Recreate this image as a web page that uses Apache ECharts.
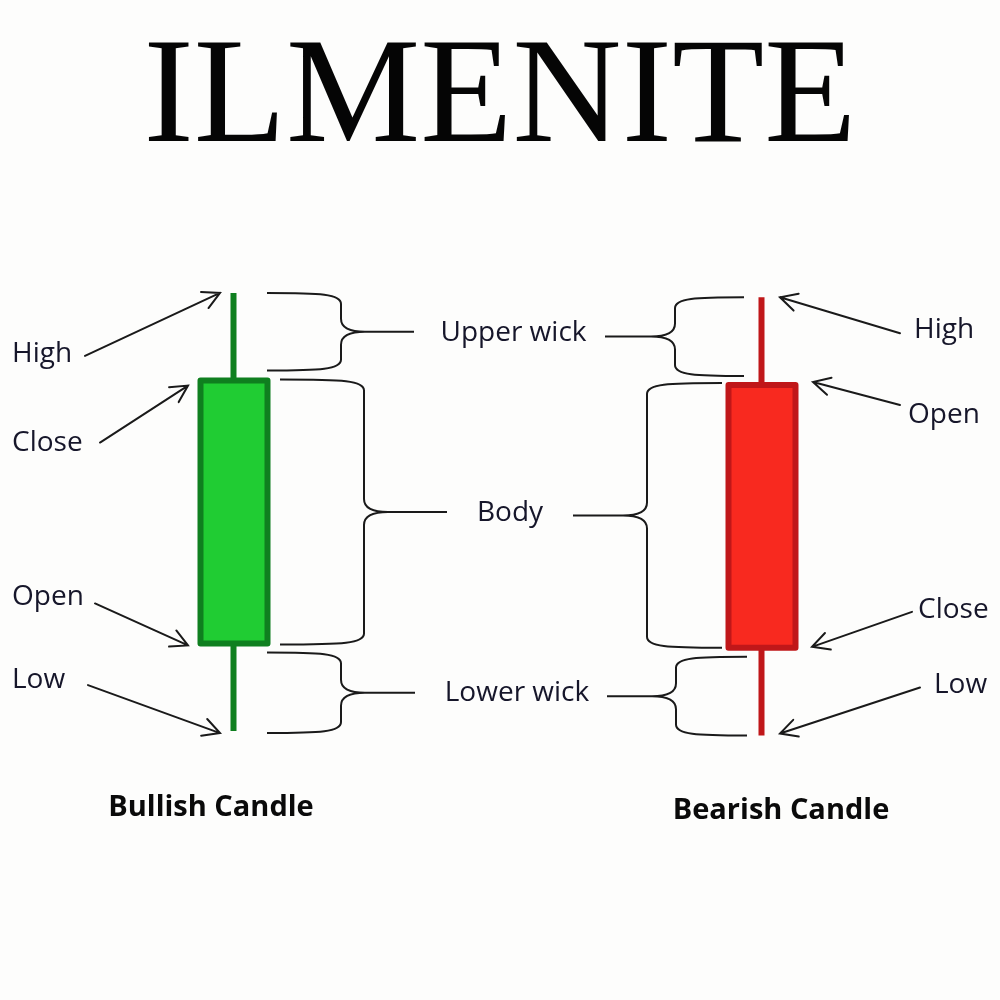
<!DOCTYPE html>
<html>
<head>
<meta charset="utf-8">
<script src="https://cdn.jsdelivr.net/npm/echarts@6/dist/echarts.min.js"></script>
<style>
html,body{margin:0;padding:0;background:#fdfdfc;}
#chart{width:1000px;height:1000px;}
</style>
</head>
<body>
<div id="chart"></div>
<script>
// ---- data ----
const titleText = 'ILMENITE';
const candleNames = ['Bullish Candle', 'Bearish Candle'];
const openPrices = [20, 79];
const closePrices = [80, 19];
const lowPrices = [0, -1];
const highPrices = [100, 99];
const pricePointNames = ['High', 'Open', 'Close', 'Low'];
const partNames = ['Upper wick', 'Body', 'Lower wick'];

// ---- layout (pixel offsets relative to each candle) ----
const arrowLayout = [
  {
    High:  {tip: [-14, 0],  tail: [-149, 63],  label: [-222, 61]},
    Close: {tip: [-46, 5],  tail: [-134, 62],  label: [-222, 62]},
    Open:  {tip: [-46, 2],  tail: [-139, -40], label: [-222, -46]},
    Low:   {tip: [-14, 2],  tail: [-146, -46], label: [-222, -51]}
  },
  {
    High:  {tip: [18, 0],   tail: [138, 36],   label: [152, 33]},
    Open:  {tip: [51, -3],  tail: [138, 20],   label: [146, 30]},
    Close: {tip: [50, -1],  tail: [150, -36],  label: [156, -38]},
    Low:   {tip: [18, -2],  tail: [158, -48],  label: [172, -50]}
  }
];
const braceLayout = [
  [
    {tip: 33, spine: 107, stem: 180, inset: [0, -10]},
    {tip: 46, spine: 130, stem: 213, inset: [-1, 1]},
    {tip: 33, spine: 107, stem: 181, inset: [9, 2]}
  ],
  [
    {tip: -18, spine: -87, stem: -157, inset: [0, -9]},
    {tip: -40, spine: -115, stem: -189, inset: [-2, 0]},
    {tip: -15, spine: -86, stem: -155, inset: [9, 0]}
  ]
];
const middleLabelDx = [4, 0, 6];
const nameOffset = [[-23, 77], [19, 75]];

const LABEL_FONT = '"Open Sans", "Noto Sans", sans-serif';
const TEXT_COLOR = '#16162a';
const LINE_COLOR = '#1a1a1a';

function priceOf(name, i) {
  if (name === 'High') return highPrices[i];
  if (name === 'Low') return lowPrices[i];
  if (name === 'Open') return openPrices[i];
  return closePrices[i];
}

function bracePath(xT, yT, yB, xS, xStem) {
  const dir = xS > xT ? 1 : -1;
  const yM = (yT + yB) / 2;
  const r = 11, c = 13, a = 24;
  const xA = xS + dir * a;
  return 'M' + xT + ' ' + yT +
    ' C' + (xS - dir * 20) + ' ' + yT + ' ' + xS + ' ' + (yT + 1) + ' ' + xS + ' ' + (yT + r) +
    ' L' + xS + ' ' + (yM - c) +
    ' Q' + xS + ' ' + yM + ' ' + xA + ' ' + yM +
    ' Q' + xS + ' ' + yM + ' ' + xS + ' ' + (yM + c) +
    ' L' + xS + ' ' + (yB - r) +
    ' C' + xS + ' ' + (yB - 1) + ' ' + (xS - dir * 20) + ' ' + yB + ' ' + xT + ' ' + yB +
    ' M' + xA + ' ' + yM + ' L' + xStem + ' ' + yM;
}

function arrowPath(tail, tip) {
  const ang = Math.atan2(tip[1] - tail[1], tip[0] - tail[0]);
  const len = 19, spread = Math.PI / 6.5;
  const h1 = [tip[0] - len * Math.cos(ang - spread), tip[1] - len * Math.sin(ang - spread)];
  const h2 = [tip[0] - len * Math.cos(ang + spread), tip[1] - len * Math.sin(ang + spread)];
  return 'M' + tail[0] + ' ' + tail[1] + ' L' + tip[0] + ' ' + tip[1] +
    ' M' + h1[0] + ' ' + h1[1] + ' L' + tip[0] + ' ' + tip[1] + ' L' + h2[0] + ' ' + h2[1];
}

function renderAnnotations(params, api) {
  const children = [];
  const braceMids = [[], []];
  candleNames.forEach(function (name, i) {
    const cx = api.coord([i, highPrices[i]])[0];
    pricePointNames.forEach(function (pn) {
      const L = arrowLayout[i][pn];
      const y = api.coord([i, priceOf(pn, i)])[1];
      const tip = [cx + L.tip[0], y + L.tip[1]];
      const tail = [cx + L.tail[0], y + L.tail[1]];
      children.push({
        type: 'path',
        shape: {pathData: arrowPath(tail, tip)},
        style: {stroke: LINE_COLOR, lineWidth: 2, fill: null, lineCap: 'round'}
      });
      children.push({
        type: 'text',
        style: {
          text: pn, x: cx + L.label[0], y: y + L.label[1],
          fill: TEXT_COLOR, fontSize: 28, fontFamily: LABEL_FONT,
          align: 'left', verticalAlign: 'middle'
        }
      });
    });
    const top = Math.max(openPrices[i], closePrices[i]);
    const bot = Math.min(openPrices[i], closePrices[i]);
    const spans = [[highPrices[i], top], [top, bot], [bot, lowPrices[i]]];
    spans.forEach(function (sp, k) {
      const B = braceLayout[i][k];
      const yT = api.coord([i, sp[0]])[1] + B.inset[0];
      const yB = api.coord([i, sp[1]])[1] + B.inset[1];
      braceMids[i][k] = {x: cx + B.stem, y: (yT + yB) / 2};
      children.push({
        type: 'path',
        shape: {pathData: bracePath(cx + B.tip, yT, yB, cx + B.spine, cx + B.stem)},
        style: {stroke: LINE_COLOR, lineWidth: 2, fill: null}
      });
    });
    const yLow = api.coord([i, lowPrices[i]])[1];
    children.push({
      type: 'text',
      style: {
        text: name, x: cx + nameOffset[i][0], y: yLow + nameOffset[i][1],
        fill: '#0a0a0a', fontSize: 29, fontWeight: 'bold', fontFamily: LABEL_FONT,
        align: 'center', verticalAlign: 'middle'
      }
    });
  });
  partNames.forEach(function (pn, k) {
    const a = braceMids[0][k], b = braceMids[1][k];
    children.push({
      type: 'text',
      style: {
        text: pn, x: (a.x + b.x) / 2 + middleLabelDx[k], y: (a.y + b.y) / 2 - 1,
        fill: TEXT_COLOR, fontSize: 28, fontFamily: LABEL_FONT,
        align: 'center', verticalAlign: 'middle'
      }
    });
  });
  return {type: 'group', children: children};
}

const chart = echarts.init(document.getElementById('chart'), null, {renderer: 'canvas'});
chart.setOption({
  backgroundColor: '#fdfdfc',
  animation: false,
  title: {
    text: titleText,
    left: 'center',
    top: 21,
    textStyle: {
      fontFamily: '"Liberation Serif", "DejaVu Serif", serif',
      fontSize: 151,
      fontWeight: 'normal',
      color: '#050505'
    }
  },
  grid: {left: 234, right: 238, top: 30, bottom: 6},
  xAxis: {
    type: 'category',
    data: candleNames,
    show: false,
    boundaryGap: false
  },
  yAxis: {
    type: 'value',
    min: -60,
    max: 160,
    show: false,
    splitLine: {show: false}
  },
  tooltip: {show: false},
  series: [
    {
      type: 'candlestick',
      silent: true,
      clip: false,
      barWidth: 67,
      data: candleNames.map(function (n, i) {
        return [openPrices[i], closePrices[i], lowPrices[i], highPrices[i]];
      }),
      itemStyle: {
        color: '#20cc33',
        color0: '#f8291f',
        borderColor: '#0f7f1f',
        borderColor0: '#c01719',
        borderWidth: 6,
        borderJoin: 'round'
      }
    },
    {
      type: 'custom',
      silent: true,
      clip: false,
      data: [[0, 0]],
      renderItem: renderAnnotations,
      z: 5
    }
  ]
});
</script>
</body>
</html>
